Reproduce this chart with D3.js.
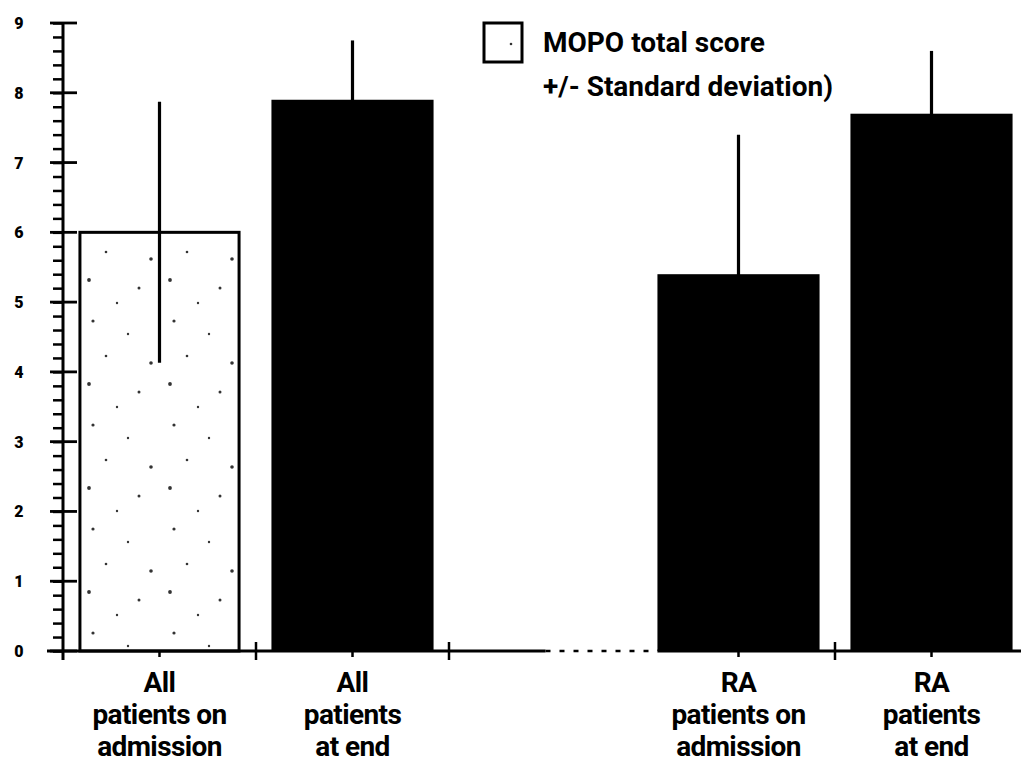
<!DOCTYPE html>
<html>
<head>
<meta charset="utf-8">
<script src="https://cdn.jsdelivr.net/npm/d3@7"></script>
<style>
  html, body { margin: 0; padding: 0; background: #fff; }
  svg { display: block; }
  .lbl { font-family: Roboto, "Liberation Sans", sans-serif; font-weight: bold; fill: #000; }
</style>
</head>
<body>
<svg id="chart" width="1021" height="764"></svg>
<script>
// MOPO total score (mean +/- standard deviation) per patient group
const categories = ["All patients on admission", "All patients at end", "", "RA patients on admission", "RA patients at end"];
const categoryLines = [["All", "patients on", "admission"], ["All", "patients", "at end"], [], ["RA", "patients on", "admission"], ["RA", "patients", "at end"]];
const means = [6.0, 7.9, null, 5.4, 7.7];
const sds = [1.87, 0.85, null, 2.0, 0.9];
const fills = ["stipple", "solid", null, "solid", "solid"];
const yTicks = [0, 1, 2, 3, 4, 5, 6, 7, 8, 9];
const legendLines = ["MOPO total score", "+/- Standard deviation)"];

const svg = d3.select("#chart");

const x = d3.scaleBand().domain(categories).range([63, 1028]).paddingInner(0.16).paddingOuter(0.08);
const y = d3.scaleLinear().domain([0, 9]).range([651, 23]);
const x0 = x.range()[0];

// sparse, irregular stipple used for the open bar
const defs = svg.append("defs");
const pat = defs.append("pattern").attr("id", "stipple").attr("patternUnits", "userSpaceOnUse")
  .attr("width", 81).attr("height", 104);
[[12, 9, 1.6], [47, 22, 1.2], [70, 51, 1.8], [25, 44, 1.3], [58, 80, 1.5], [8, 72, 1.9], [36, 95, 1.2]]
  .forEach(([cx, cy, r]) => pat.append("circle").attr("cx", cx).attr("cy", cy).attr("r", r).attr("fill", "#333"));

const rows = categories.map((c, i) => ({ c, lines: categoryLines[i], m: means[i], sd: sds[i], f: fills[i] }))
  .filter(d => d.m !== null);

// bars
svg.append("g").selectAll("rect").data(rows).join("rect")
  .attr("x", d => x(d.c) + (d.f === "stipple" ? 1.5 : 0))
  .attr("y", d => y(d.m))
  .attr("width", d => x.bandwidth() - (d.f === "stipple" ? 3 : 0))
  .attr("height", d => y(0) - y(d.m))
  .attr("fill", d => d.f === "stipple" ? "url(#stipple)" : "#000")
  .attr("stroke", "#000")
  .attr("stroke-width", d => d.f === "stipple" ? 3 : 0);

// error bars
svg.append("g").selectAll("line").data(rows).join("line")
  .attr("x1", d => x(d.c) + x.bandwidth() / 2)
  .attr("x2", d => x(d.c) + x.bandwidth() / 2)
  .attr("y1", d => y(d.m + d.sd))
  .attr("y2", d => y(Math.max(0, d.m - d.sd)))
  .attr("stroke", "#000").attr("stroke-width", 3.2);

// y axis: minor ticks every 0.2 on the left, majors crossing the line
const yAxis = svg.append("g").attr("transform", `translate(${x0},0)`)
  .call(d3.axisLeft(y).tickValues(d3.range(0, 9.01, 0.2)).tickSize(10).tickFormat(""));
yAxis.select(".domain").remove();
yAxis.selectAll(".tick line").attr("stroke", "#000").attr("stroke-width", 2.5);

svg.append("g").selectAll("line").data(yTicks).join("line")
  .attr("x1", x0 - 13).attr("x2", x0 + 14)
  .attr("y1", d => y(d)).attr("y2", d => y(d))
  .attr("stroke", "#000").attr("stroke-width", 2.8);

svg.append("line").attr("x1", x0).attr("x2", x0).attr("y1", y(9)).attr("y2", y(0) + 9)
  .attr("stroke", "#000").attr("stroke-width", 3);

svg.append("g").selectAll("text").data(yTicks).join("text")
  .attr("class", "lbl")
  .attr("x", 19).attr("y", d => y(d) + 6)
  .attr("text-anchor", "middle")
  .style("font-size", "16px")
  .style("font-weight", "900")
  .text(d => d);

// x axis baseline: solid, broken through the empty slot
const gap = categories[2];
const gapMid = x(gap) + x.bandwidth() / 2;
svg.append("line").attr("x1", x0 - 16).attr("x2", gapMid).attr("y1", y(0)).attr("y2", y(0))
  .attr("stroke", "#000").attr("stroke-width", 3);
svg.append("line").attr("x1", gapMid).attr("x2", x(categories[3])).attr("y1", y(0)).attr("y2", y(0))
  .attr("stroke", "#000").attr("stroke-width", 2.5).attr("stroke-dasharray", "5 9");
svg.append("line").attr("x1", x(categories[3])).attr("x2", 1021).attr("y1", y(0)).attr("y2", y(0))
  .attr("stroke", "#000").attr("stroke-width", 3);

// boundary ticks between slots and short ticks under each bar
const bounds = [1, 2, 4].map(i => x(categories[i]) - x.step() * x.paddingInner() / 2);
svg.append("g").selectAll("line").data(bounds).join("line")
  .attr("x1", d => d).attr("x2", d => d).attr("y1", y(0) - 9).attr("y2", y(0) + 9)
  .attr("stroke", "#000").attr("stroke-width", 2.5);
svg.append("g").selectAll("line").data(rows).join("line")
  .attr("x1", d => x(d.c) + x.bandwidth() / 2).attr("x2", d => x(d.c) + x.bandwidth() / 2)
  .attr("y1", y(0)).attr("y2", y(0) + 6)
  .attr("stroke", "#000").attr("stroke-width", 2.5);

// category labels
const lab = svg.append("g").selectAll("text").data(rows).join("text")
  .attr("class", "lbl")
  .attr("text-anchor", "middle")
  .style("font-size", "28px")
  .style("letter-spacing", "-0.6px");
lab.selectAll("tspan").data(d => d.lines.map(t => ({ t, cx: x(d.c) + x.bandwidth() / 2 }))).join("tspan")
  .attr("x", d => d.cx)
  .attr("y", (d, i) => 692 + i * 32)
  .text(d => d.t);

// legend
svg.append("rect").attr("x", 484).attr("y", 23).attr("width", 38).attr("height", 39)
  .attr("fill", "url(#stipple)").attr("stroke", "#000").attr("stroke-width", 3);
svg.append("g").selectAll("text").data(legendLines).join("text")
  .attr("class", "lbl")
  .attr("x", 543).attr("y", (d, i) => 52 + i * 44)
  .style("font-size", "28px")
  .style("letter-spacing", "0px")
  .text(d => d);
</script>
</body>
</html>
